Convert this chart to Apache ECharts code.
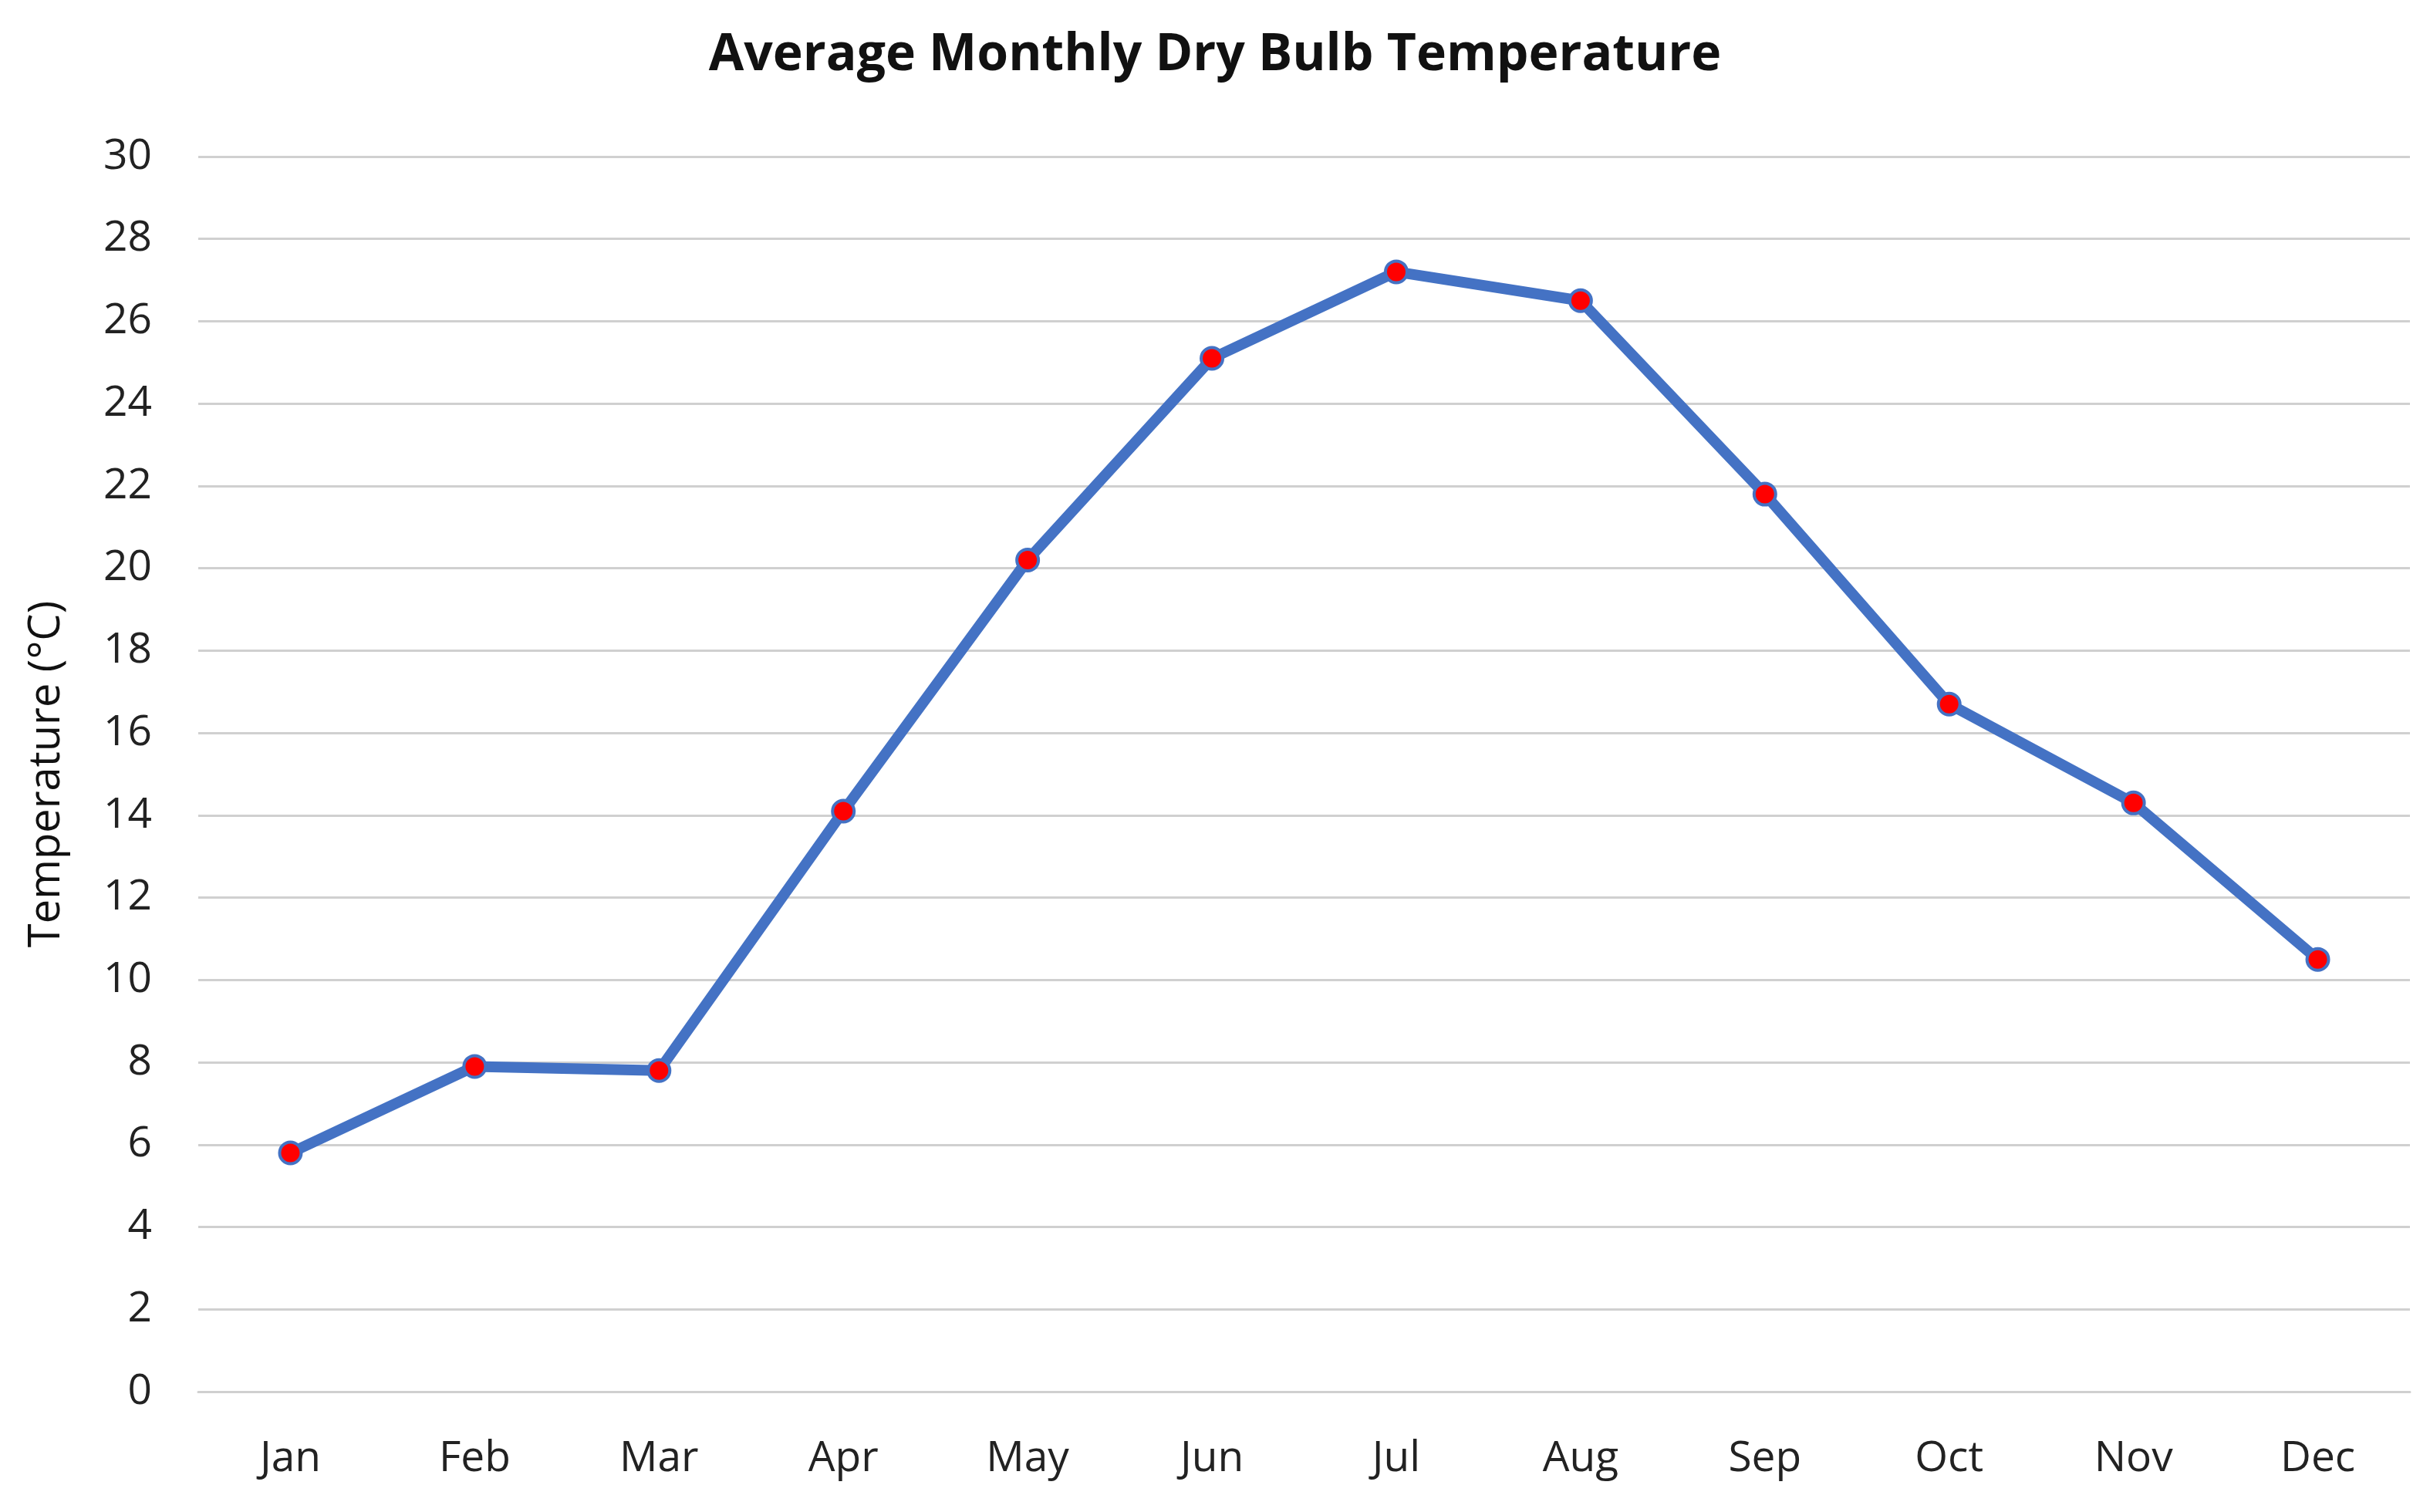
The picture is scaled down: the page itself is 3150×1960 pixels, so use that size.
<html>
    <head>
        <meta charset="utf-8">
        <script src="https://cdn.jsdelivr.net/npm/echarts@6/dist/echarts.min.js"></script>
    </head>
    <body style="margin:0">
        <div id="main" style="width:3150px;height:1960px;background:#fff"></div>
        <script>

        var myChart = echarts.init(document.getElementById('main'));

        var months = ['Jan', 'Feb', 'Mar', 'Apr', 'May', 'Jun', 'Jul', 'Aug', 'Sep', 'Oct', 'Nov', 'Dec'];
        var temps = [5.8, 7.9, 7.8, 14.1, 20.2, 25.1, 27.2, 26.5, 21.8, 16.7, 14.3, 10.5];

        var font = 'Open Sans, Noto Sans, sans-serif';

        option = {
            animation: false,
            title: {
                text: 'Average Monthly Dry Bulb Temperature',
                left: 'center',
                top: 34,
                textStyle: { fontFamily: font, fontSize: 66, fontWeight: 'bold', color: '#111' }
            },
            grid: {
                left: 257,
                right: 26,
                top: 203,
                bottom: 156
            },
            xAxis: {
                type: 'category',
                data: months,
                boundaryGap: true,
                axisTick: { show: false },
                axisLine: { lineStyle: { color: '#d0d0d0', width: 3 } },
                axisLabel: { fontFamily: font, fontSize: 55, color: '#222', margin: 60 }
            },
            yAxis: {
                type: 'value',
                min: 0,
                max: 30,
                interval: 2,
                name: 'Temperature (°C)',
                nameLocation: 'middle',
                nameGap: 168,
                nameTextStyle: { fontFamily: font, fontSize: 56, color: '#111' },
                axisLine: { show: false },
                axisTick: { show: false },
                axisLabel: { fontFamily: font, fontSize: 55, color: '#222', margin: 60 },
                splitLine: { lineStyle: { color: '#d0d0d0', width: 3 } }
            },
            series: [
                {
                    name: 'Temperature',
                    type: 'line',
                    data: temps,
                    symbol: 'circle',
                    symbolSize: 28,
                    lineStyle: { color: '#4472c4', width: 14 },
                    itemStyle: { color: '#ff0000', borderColor: '#4472c4', borderWidth: 4 }
                }
            ]
        };

        myChart.setOption(option);

        </script>
    </body>
</html>
